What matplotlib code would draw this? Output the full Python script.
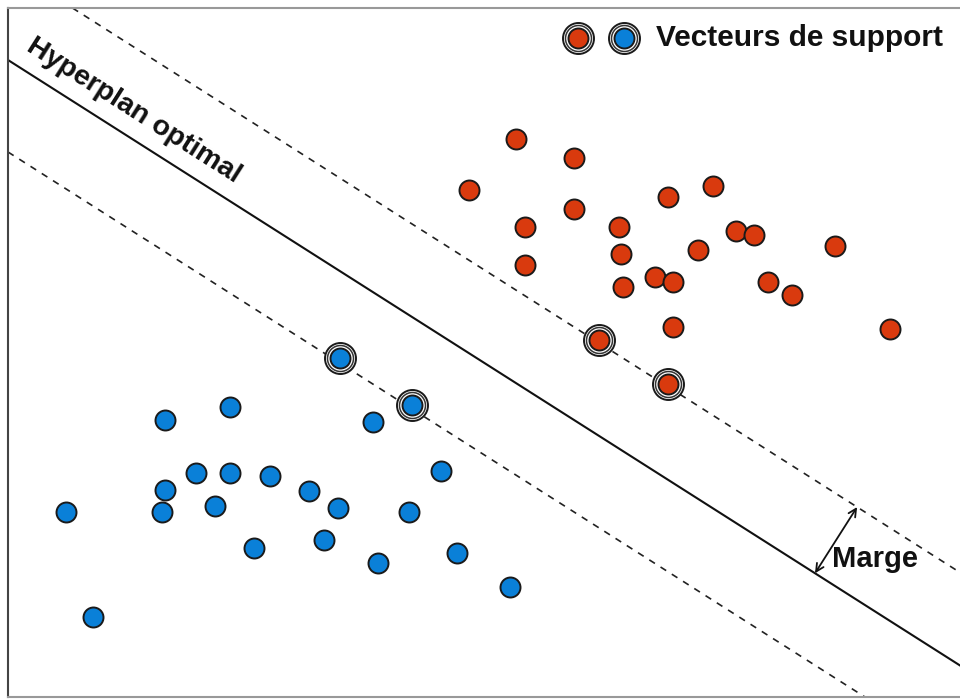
import matplotlib
matplotlib.use("Agg")
import matplotlib.pyplot as plt
import numpy as np

# Data (pixel-like coordinate system, y downward)
red_x = [516, 574, 469, 574, 668, 713, 525, 619, 525, 621, 698, 736, 754, 835, 655, 673, 623, 768, 792, 673, 890]
red_y = [139, 158, 190, 209, 197, 186, 227, 227, 265, 254, 250, 231, 235, 246, 277, 282, 287, 282, 295, 327, 329]
blue_x = [165, 230, 373, 196, 230, 270, 309, 165, 162, 215, 338, 441, 409, 66, 254, 324, 378, 457, 510, 93]
blue_y = [420, 407, 422, 473, 473, 476, 491, 490, 512, 506, 508, 471, 512, 512, 548, 540, 563, 553, 587, 617]
sv_red_x = [599, 668]
sv_red_y = [340, 384]
sv_blue_x = [340, 412]
sv_blue_y = [358, 405]
legend_x = [578, 624]
legend_y = [38, 38]

slope = 0.636
solid_pt = (8, 60)
upper_pt = (8, -33)
lower_pt = (8, 152)

RED = '#D93A0E'
BLUE = '#0A80D8'

plt.rcParams['font.family'] = ['Liberation Sans', 'DejaVu Sans']
fig = plt.figure(figsize=(9.6, 7.0), dpi=100)
ax = fig.add_axes([8/960, 3/700, 952/960, 689/700])
ax.set_xlim(8, 960)
ax.set_ylim(697, 8)
ax.set_xticks([]); ax.set_yticks([])
ax.spines['right'].set_visible(False)
ax.spines['left'].set_color('#444444'); ax.spines['left'].set_linewidth(1.5)
ax.spines['top'].set_color('#999999'); ax.spines['top'].set_linewidth(1.5)
ax.spines['bottom'].set_color('#999999'); ax.spines['bottom'].set_linewidth(1.5)

ax.axline(solid_pt, slope=slope, color='#111111', lw=1.5, zorder=1)
for p in (upper_pt, lower_pt):
    ax.axline(p, slope=slope, color='#222222', lw=1.2, ls=(0, (4, 4)), zorder=1)

def px2pt(d):
    return d * 72 / 100

ms = px2pt(20)
ax.plot(red_x, red_y, 'o', ms=ms, mfc=RED, mec='#1a1a1a', mew=1.4, zorder=3)
ax.plot(blue_x, blue_y, 'o', ms=ms, mfc=BLUE, mec='#1a1a1a', mew=1.4, zorder=3)

def sv(xs, ys, color):
    ax.plot(xs, ys, 'o', ms=px2pt(31), mfc='white', mec='#1a1a1a', mew=1.4, zorder=2)
    ax.plot(xs, ys, 'o', ms=px2pt(26), mfc='white', mec='#333333', mew=1.1, zorder=2)
    ax.plot(xs, ys, 'o', ms=ms, mfc=color, mec='#1a1a1a', mew=1.4, zorder=3)

sv(sv_red_x, sv_red_y, RED)
sv(sv_blue_x, sv_blue_y, BLUE)
sv(legend_x[:1], legend_y[:1], RED)
sv(legend_x[1:], legend_y[1:], BLUE)

ax.text(656, 38, 'Vecteurs de support', fontsize=21.5, fontweight='bold',
        ha='left', va='center', color='#111111')

ang = np.degrees(np.arctan(slope))
ax.text(22, 55, 'Hyperplan optimal', fontsize=20.5, fontweight='bold',
        rotation=-ang, rotation_mode='anchor', ha='left', va='bottom',
        transform_rotates_text=False, color='#111111')

# Margin arrow
x0 = 815
y0 = solid_pt[1] + slope * (x0 - solid_pt[0])
dist = (solid_pt[1] - upper_pt[1]) * np.cos(np.arctan(slope))
ux, uy = np.sin(np.arctan(slope)), -np.cos(np.arctan(slope))
ax.annotate('', xy=(x0 + dist * ux, y0 + dist * uy), xytext=(x0, y0),
            arrowprops=dict(arrowstyle='<->', color='#111111', lw=1.3,
                            shrinkA=0, shrinkB=0, mutation_scale=14))
ax.text(832, 559, 'Marge', fontsize=21, fontweight='bold', ha='left', va='center',
        color='#111111')

fig.savefig('out.png', dpi=100)
